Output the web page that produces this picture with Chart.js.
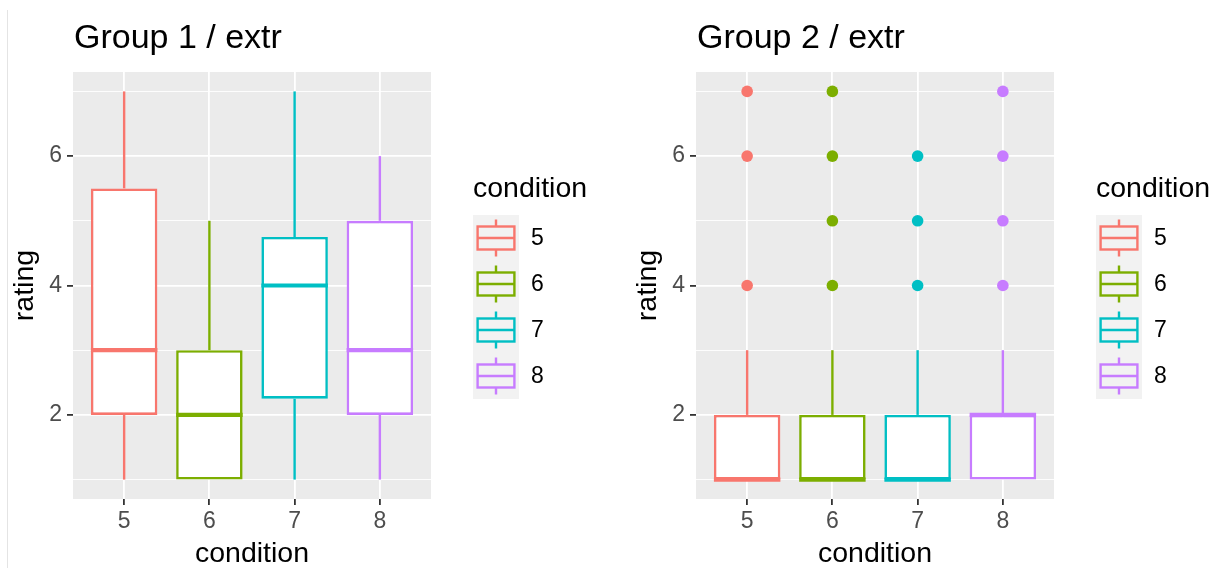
<!DOCTYPE html>
<html lang="en">
<head>
  <meta charset="UTF-8">
  <title>extr by condition</title>
  <style>
    body {
      margin: 0;
      width: 1220px;
      height: 568px;
      position: relative;
      overflow: hidden;
      background: #ffffff;
    }
    .edge {
      position: absolute;
      left: 7px;
      top: 10px;
      width: 1px;
      height: 558px;
      background: #e4e4e4;
    }
    canvas {
      position: absolute;
      top: 0;
    }
    #group1 { left: 0; }
    #group2 { left: 623px; }
  </style>
</head>
<body>
  <div class="edge"></div>
  <canvas id="group1" width="620" height="568"></canvas>
  <canvas id="group2" width="597" height="568"></canvas>
  <script src="https://cdn.jsdelivr.net/npm/chart.js"></script>
  <script>
    const conditions = ["5", "6", "7", "8"];
    const colors = ["#F8766D", "#7CAE00", "#00BFC4", "#C77CFF"];
    const yTicks = [1, 2, 3, 4, 5, 6, 7];
    const yTickLabels = ["", "2", "", "4", "", "6", ""];

    // Group 1 box stats per condition
    const g1Min = [1, 1, 1, 1];
    const g1Q1 = [2, 1, 2.25, 2];
    const g1Median = [3, 2, 4, 3];
    const g1Q3 = [5.5, 3, 4.75, 5];
    const g1Max = [7, 5, 7, 6];
    const g1OutCond = [];
    const g1OutVal = [];

    // Group 2 box stats per condition
    const g2Min = [1, 1, 1, 1];
    const g2Q1 = [1, 1, 1, 1];
    const g2Median = [1, 1, 1, 2];
    const g2Q3 = [2, 2, 2, 2];
    const g2Max = [3, 3, 3, 3];
    const g2OutCond = ["5", "5", "5", "6", "6", "6", "6", "7", "7", "7", "8", "8", "8", "8"];
    const g2OutVal = [7, 6, 4, 7, 6, 5, 4, 6, 5, 4, 7, 6, 5, 4];

    const FONT = "'Liberation Sans', Arial, sans-serif";
    Chart.defaults.font.family = FONT;

    // panel background, medians, title and legend
    const ggDecor = {
      id: "ggDecor",
      beforeDraw(chart) {
        const { ctx, chartArea: a } = chart;
        ctx.save();
        ctx.fillStyle = "#EBEBEB";
        ctx.fillRect(a.left, a.top, a.right - a.left, a.bottom - a.top);
        ctx.restore();
      },
      afterDatasetsDraw(chart, args, opts) {
        const { ctx } = chart;
        const y = chart.scales.y;
        const boxes = chart.getDatasetMeta(0).data;
        ctx.save();
        ctx.lineWidth = 4.2;
        boxes.forEach((el, i) => {
          const py = y.getPixelForValue(opts.medians[i]);
          ctx.strokeStyle = colors[i];
          ctx.beginPath();
          ctx.moveTo(el.x - el.width / 2, py);
          ctx.lineTo(el.x + el.width / 2, py);
          ctx.stroke();
        });
        ctx.restore();
      },
      afterDraw(chart, args, opts) {
        const { ctx, chartArea: a } = chart;
        ctx.save();
        ctx.fillStyle = "#000";
        ctx.textBaseline = "alphabetic";
        ctx.font = "34px " + FONT;
        ctx.fillText(opts.title, a.left + 1, 48);

        // legend
        const lx = a.right + 42;
        ctx.font = "28.5px " + FONT;
        ctx.fillText("condition", lx, 197);
        const keyW = 46, keyH = 46, top = 215;
        ctx.fillStyle = "#F2F2F2";
        ctx.fillRect(lx, top, keyW, keyH * conditions.length);
        conditions.forEach((c, i) => {
          const ky = top + i * keyH;
          const cx = lx + keyW / 2;
          ctx.strokeStyle = colors[i];
          ctx.lineWidth = 2.4;
          ctx.beginPath();
          ctx.moveTo(cx, ky + keyH * 0.1);
          ctx.lineTo(cx, ky + keyH * 0.25);
          ctx.moveTo(cx, ky + keyH * 0.75);
          ctx.lineTo(cx, ky + keyH * 0.9);
          ctx.stroke();
          ctx.strokeRect(lx + keyW * 0.1, ky + keyH * 0.25, keyW * 0.8, keyH * 0.5);
          ctx.beginPath();
          ctx.moveTo(lx + keyW * 0.1, ky + keyH / 2);
          ctx.lineTo(lx + keyW * 0.9, ky + keyH / 2);
          ctx.stroke();
          ctx.fillStyle = "#000";
          ctx.font = "23px " + FONT;
          ctx.textBaseline = "middle";
          ctx.fillText(c, lx + 58, ky + keyH / 2 + 1);
        });
        ctx.restore();
      }
    };

    function makePanel(id, title, min, q1, median, q3, max, outCond, outVal) {
      const xs = conditions.map(Number);
      const canvas = document.getElementById(id);
      return new Chart(canvas, {
        type: "bar",
        data: {
          datasets: [
            {
              data: xs.map((x, i) => ({ x: x, y: [q1[i], q3[i]] })),
              backgroundColor: "#ffffff",
              borderColor: colors,
              borderWidth: 2.6,
              borderSkipped: false,
              grouped: false,
              categoryPercentage: 1,
              barPercentage: 0.78,
              order: 0
            },
            {
              data: xs.map((x, i) => ({ x: x, y: [q3[i], max[i]] })),
              backgroundColor: colors,
              grouped: false,
              maxBarThickness: 2.4,
              order: 1
            },
            {
              data: xs.map((x, i) => ({ x: x, y: [min[i], q1[i]] })),
              backgroundColor: colors,
              grouped: false,
              maxBarThickness: 2.4,
              order: 1
            },
            {
              type: "line",
              data: outCond.map((c, i) => ({ x: Number(c), y: outVal[i] })),
              showLine: false,
              pointRadius: 5.8,
              pointBorderWidth: 0,
              pointBackgroundColor: outCond.map(c => colors[conditions.indexOf(c)]),
              order: -1
            }
          ]
        },
        options: {
          responsive: false,
          animation: false,
          devicePixelRatio: 1,
          layout: { padding: { left: 0, top: 72, right: canvas.width - 431, bottom: 0 } },
          plugins: {
            legend: { display: false },
            tooltip: { enabled: false },
            ggDecor: { title: title, medians: median }
          },
          scales: {
            x: {
              type: "linear",
              min: 4.4,
              max: 8.6,
              offset: false,
              afterBuildTicks: ax => { ax.ticks = xs.map(v => ({ value: v })); },
              afterFit: ax => { ax.height = 69; },
              border: { display: false },
              grid: { color: "#ffffff", lineWidth: 1.8, offset: false, tickColor: "#333333", tickLength: 6, tickWidth: 1.8 },
              ticks: {
                color: "#4D4D4D",
                font: { size: 23 },
                padding: 3,
                maxRotation: 0,
                autoSkip: false,
                callback: v => conditions[xs.indexOf(v)]
              },
              title: { display: true, text: "condition", color: "#000", font: { size: 28.5, lineHeight: 0.7 }, padding: { top: 0 } }
            },
            y: {
              min: 0.7,
              max: 7.3,
              afterBuildTicks: ax => { ax.ticks = yTicks.map(v => ({ value: v })); },
              afterFit: ax => { ax.width = 73; },
              border: { display: false },
              grid: {
                color: "#ffffff",
                lineWidth: c => (c.tick && c.tick.value % 2 === 0 ? 1.8 : 0.9),
                tickColor: c => (c.tick && c.tick.value % 2 === 0 ? "#333333" : "rgba(0,0,0,0)"),
                tickLength: 6,
                tickWidth: 1.8
              },
              ticks: {
                color: "#4D4D4D",
                font: { size: 23 },
                padding: 5,
                callback: v => yTickLabels[yTicks.indexOf(v)]
              },
              title: { display: true, text: "rating", color: "#000", font: { size: 28.5 }, padding: { top: 8 } }
            }
          }
        },
        plugins: [ggDecor]
      });
    }

    makePanel("group1", "Group 1 / extr", g1Min, g1Q1, g1Median, g1Q3, g1Max, g1OutCond, g1OutVal);
    makePanel("group2", "Group 2 / extr", g2Min, g2Q1, g2Median, g2Q3, g2Max, g2OutCond, g2OutVal);
  </script>
</body>
</html>
